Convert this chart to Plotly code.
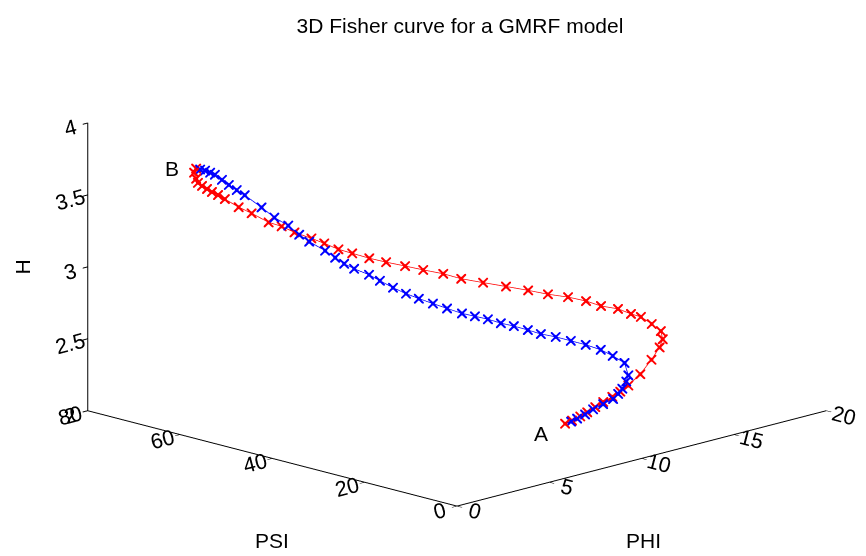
import plotly.graph_objects as go

title_text = "3D Fisher curve for a GMRF model"

# Red curve (A -> B)
red_phi = [10.82, 11.18, 11.69, 12.16, 12.77, 13.30, 13.86, 14.39, 15.03, 16.09, 17.30,
           18.21, 18.55, 18.75, 18.64, 18.49, 18.08, 17.65, 16.89, 16.25, 15.57, 14.57,
           13.69, 12.74, 11.62, 10.68, 9.96, 9.07, 8.23, 7.37, 6.57, 5.87, 5.31, 4.80,
           4.37, 3.79, 3.47, 2.93, 2.67, 2.35, 2.23, 2.17, 2.02, 1.98, 1.94, 1.92, 2.08,
           2.21, 2.39]
red_psi = [19.87, 19.81, 20.06, 20.44, 21.13, 21.53, 21.80, 22.19, 23.01, 24.65, 27.08,
           28.96, 29.64, 30.85, 32.38, 34.13, 34.64, 35.73, 36.37, 37.05, 38.23, 38.58,
           39.35, 40.35, 40.83, 41.82, 42.82, 43.60, 44.17, 44.84, 45.29, 46.19, 46.94,
           47.96, 49.03, 50.37, 51.89, 52.54, 55.18, 56.71, 59.22, 60.46, 61.18, 62.08,
           63.00, 63.81, 64.83, 65.80, 66.08]
red_h = [2.05, 2.06, 2.07, 2.08, 2.09, 2.105, 2.12, 2.135, 2.15, 2.18, 2.22, 2.26, 2.30,
         2.34, 2.38, 2.42, 2.45, 2.49, 2.53, 2.58, 2.62, 2.67, 2.72, 2.77, 2.83, 2.88,
         2.93, 2.98, 3.03, 3.08, 3.13, 3.18, 3.22, 3.27, 3.31, 3.36, 3.40, 3.44, 3.49,
         3.53, 3.57, 3.59, 3.61, 3.625, 3.64, 3.655, 3.67, 3.70, 3.72]

# Blue curve (A -> B)
blue_phi = [10.82, 11.05, 11.38, 11.80, 12.33, 12.92, 13.50, 13.95, 14.38, 14.94, 15.34,
            15.93, 15.75, 15.46, 14.97, 14.38, 13.78, 13.08, 12.54, 11.97, 11.32, 10.78,
            10.13, 9.48, 8.84, 8.22, 7.60, 7.02, 6.54, 6.01, 5.59, 5.06, 4.71, 4.50, 4.21,
            3.67, 3.38, 3.13, 2.69, 2.50, 2.42, 2.44, 2.46, 2.51, 2.55, 2.57, 2.57, 2.47,
            2.39]
blue_psi = [19.87, 19.48, 19.51, 19.46, 19.85, 20.02, 20.19, 20.90, 21.71, 23.10, 24.25,
            27.43, 29.28, 30.70, 32.00, 32.87, 33.74, 34.16, 34.82, 35.57, 35.78, 36.43,
            36.65, 36.85, 37.53, 38.10, 38.67, 39.14, 40.03, 40.74, 41.42, 42.54, 43.30,
            44.40, 45.42, 46.70, 47.71, 49.08, 50.33, 52.35, 55.68, 57.48, 59.28, 60.97,
            62.66, 63.76, 64.86, 65.54, 66.08]
blue_h = [2.05, 2.06, 2.07, 2.085, 2.10, 2.115, 2.13, 2.145, 2.16, 2.18, 2.20, 2.24, 2.28,
          2.32, 2.36, 2.40, 2.44, 2.48, 2.52, 2.56, 2.60, 2.64, 2.68, 2.72, 2.77, 2.82,
          2.87, 2.92, 2.97, 3.03, 3.08, 3.13, 3.17, 3.21, 3.26, 3.33, 3.38, 3.44, 3.50,
          3.56, 3.62, 3.64, 3.66, 3.68, 3.70, 3.705, 3.71, 3.715, 3.72]

point_labels = ["A", "B"]
label_phi = [10.82, 2.39]
label_psi = [19.87, 66.08]
label_h = [2.05, 3.72]

axis_titles = ["PHI", "PSI", "H"]

phi_ticks = [0, 5, 10, 15, 20]
psi_ticks = [0, 20, 40, 60, 80]
h_ticks = [2, 2.5, 3, 3.5, 4]

FONT = "Arial, Liberation Sans, sans-serif"

fig = go.Figure()
for phi, psi, h, col in [(blue_phi, blue_psi, blue_h, "#0000ff"),
                         (red_phi, red_psi, red_h, "#ff0000")]:
    fig.add_trace(go.Scatter3d(x=phi, y=psi, z=h, mode="lines+markers",
                               line=dict(color=col, width=1.5),
                               marker=dict(symbol="cross", size=2.3, color=col),
                               showlegend=False, hoverinfo="skip"))
    fig.add_trace(go.Scatter3d(x=phi, y=psi, z=h, mode="markers",
                               marker=dict(symbol="x", size=2.3, color=col),
                               showlegend=False, hoverinfo="skip"))

ax_common = dict(showgrid=False, showbackground=False, zeroline=False,
                 showline=True, linecolor="black", linewidth=2,
                 ticks="outside", ticklen=7, tickcolor="black", tickwidth=2,
                 tickfont=dict(family=FONT, size=16, color="black"),
                 showspikes=False, title_text="")

ann_font = dict(family=FONT, size=21, color="black")
annotations = [dict(x=label_phi[i], y=label_psi[i], z=label_h[i], text=point_labels[i],
                    showarrow=False, xshift=-24, yshift=(-10 if i == 0 else 0),
                    font=ann_font)
               for i in range(2)]
annotations += [
    dict(x=10, y=0, z=2, text=axis_titles[0], showarrow=False, xshift=2, yshift=-82,
         font=ann_font),
    dict(x=0, y=40, z=2, text=axis_titles[1], showarrow=False, xshift=0, yshift=-82,
         font=ann_font),
    dict(x=0, y=80, z=3, text=axis_titles[2], showarrow=False, xshift=-65, yshift=0,
         textangle=-90, font=ann_font),
]

scene = dict(
    domain=dict(x=[39/866, 1 - 7/866], y=[12/556, 1]),
    xaxis=dict(ax_common, range=[0, 20], tickvals=phi_ticks),
    yaxis=dict(ax_common, range=[0, 80], tickvals=psi_ticks),
    zaxis=dict(ax_common, range=[2, 4], tickvals=h_ticks),
    aspectmode="manual",
    aspectratio=dict(x=1.92, y=1.92, z=1.095),
    camera=dict(projection=dict(type="orthographic"),
                up=dict(x=0, y=0, z=1), center=dict(x=0, y=0, z=-0.05),
                eye=dict(x=-2.74, y=-2.74, z=0.986)),
    annotations=annotations,
)

fig.update_layout(
    width=866, height=556,
    margin=dict(l=0, r=0, t=0, b=0),
    paper_bgcolor="white",
    title=dict(text=title_text, x=452/866, xanchor="center", y=1 - 18/556, yanchor="middle",
               font=dict(family=FONT, size=21, color="black")),
    scene=scene,
)

fig.write_html("out.html")
